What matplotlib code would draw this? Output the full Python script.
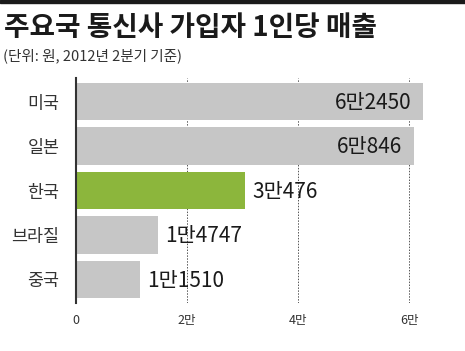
import numpy as np
import matplotlib.pyplot as plt
from matplotlib.patches import Rectangle

plt.rcParams['font.family'] = ['Noto Sans CJK KR', 'DejaVu Sans']

countries = ['미국', '일본', '한국', '브라질', '중국']
revenue = [62450, 60846, 30476, 14747, 11510]
value_labels = ['6만2450', '6만846', '3만476', '1만4747', '1만1510']
tick_vals = [0, 20000, 40000, 60000]
tick_labels = ['0', '2만', '4만', '6만']

W, H = 465, 351
fig = plt.figure(figsize=(W / 100, H / 100), dpi=100)

# black strip along the top
fig.patches.append(Rectangle((0, 1 - 3 / H), 1, 3 / H, transform=fig.transFigure,
                             color='#1a1a1a', zorder=0))

fig.text(4 / W, 1 - 28 / H, '주요국 통신사 가입자 1인당 매출', fontsize=20,
         fontweight='black', color='#1a1a1a', va='center', ha='left')
fig.text(3 / W, 1 - 56 / H, '(단위: 원, 2012년 2분기 기준)', fontsize=10.5,
         color='#333333', va='center', ha='left')

# axes: left at x=76px, top 78px, bottom 303px
ax = fig.add_axes([76 / W, 1 - 303 / H, (W - 76) / W, 225 / H])
ax.set_xlim(0, (W - 76) / 111 * 20000)
y = np.arange(len(countries))
ax.set_ylim(len(countries) - 0.5 + 0.03, -0.5 - 0.03)

colors = ['#c6c6c6'] * len(countries)
colors[countries.index('한국')] = '#8cb63c'
ax.barh(y, revenue, height=0.84, color=colors, zorder=2)

for i, (v, lab) in enumerate(zip(revenue, value_labels)):
    if v > 50000:
        ax.text(v - 2000, i + 0.03, lab, ha='right', va='center', fontsize=15,
                color='#1a1a1a', zorder=3)
    else:
        ax.text(v + 1300, i + 0.03, lab, ha='left', va='center', fontsize=15,
                color='#1a1a1a', zorder=3)

for tv in tick_vals[1:]:
    ax.axvline(tv, color='#555555', lw=0.7, ls=(0, (1.5, 1.5)), zorder=1)

ax.set_yticks(y)
ax.set_yticklabels(countries, fontsize=12.5, color='#333333')
ax.set_xticks(tick_vals)
ax.set_xticklabels(tick_labels, fontsize=9, color='#333333')
ax.tick_params(axis='both', length=0)
ax.tick_params(axis='y', pad=12)
ax.tick_params(axis='x', pad=8)

for s in ['top', 'right', 'bottom']:
    ax.spines[s].set_visible(False)
ax.spines['left'].set_color('#333333')
ax.spines['left'].set_linewidth(1.5)
ax.patch.set_visible(False)

fig.savefig('out.png', dpi=100)
